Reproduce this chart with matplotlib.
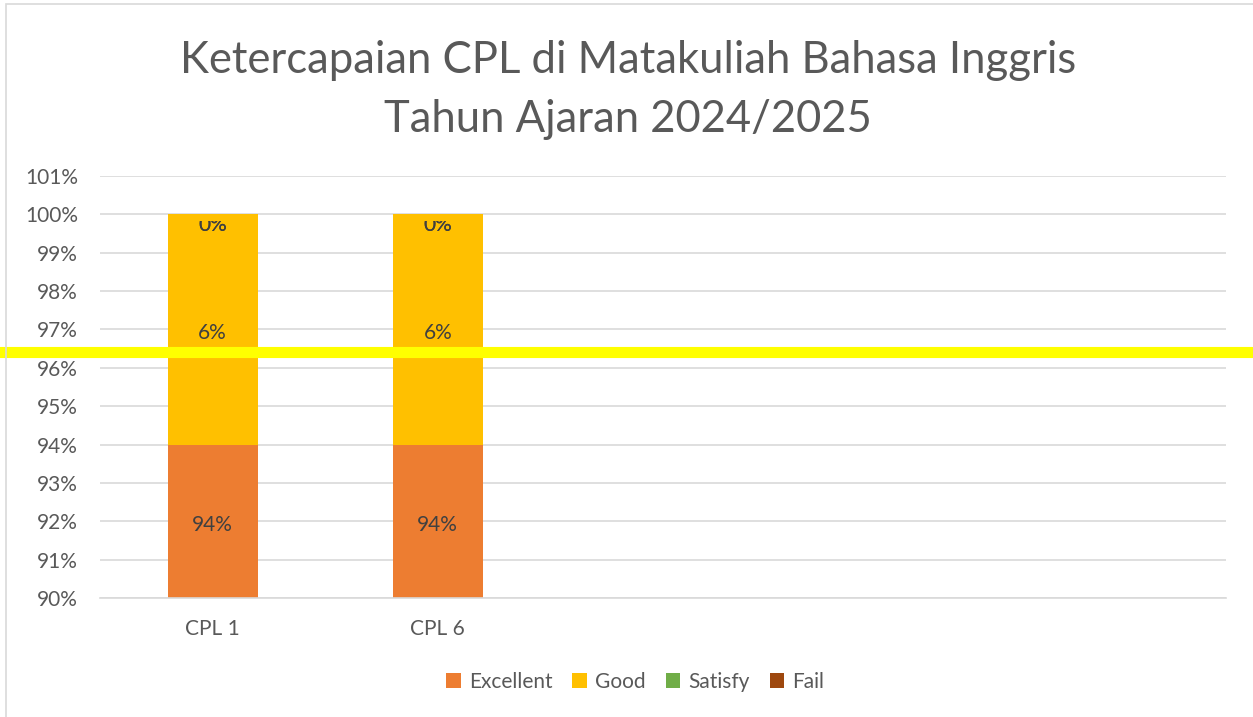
import matplotlib.pyplot as plt
from matplotlib.patches import Rectangle
from matplotlib.ticker import MultipleLocator, FuncFormatter
import numpy as np

plt.rcParams['font.family'] = ['Lato', 'DejaVu Sans']

categories = ['CPL 1', 'CPL 6', '', '', '']
series_names = ['Excellent', 'Good', 'Satisfy', 'Fail']
excellent = [94, 94]
good = [6, 6]
satisfy = [0, 0]
fail = [0, 0]
marker_value = 96.42  # yellow highlight line

colors = ['#ED7D31', '#FFC000', '#70AD47', '#9E480E']
title = 'Ketercapaian CPL di Matakuliah Bahasa Inggris\nTahun Ajaran 2024/2025'

fig = plt.figure(figsize=(12.53, 7.17), dpi=100)
ax = fig.add_axes([0.0798, 0.166, 0.8987, 0.5886])

ymin, ymax = 90, 101
x = np.arange(len(categories))
n = len(excellent)
width = 0.4
bottom = np.zeros(n)
for name, vals, c in zip(series_names, [excellent, good, satisfy, fail], colors):
    vals = np.array(vals, dtype=float)
    ax.bar(x[:n], vals, width, bottom=bottom, color=c, label=name, zorder=2)
    for i in range(n):
        lo = max(bottom[i], ymin)
        hi = bottom[i] + vals[i]
        if vals[i] > 0:
            ax.annotate(f'{vals[i]:.0f}%', (x[i], (lo + hi) / 2), xytext=(0, -2.5),
                        textcoords='offset points', ha='center', va='center',
                        fontsize=15, color='#404040', zorder=3)
        else:
            t = ax.annotate(f'{vals[i]:.0f}%', (x[i], hi), xytext=(0, -7.5),
                            textcoords='offset points', ha='center', va='center',
                            fontsize=15, color='#404040', zorder=3)
            clip = Rectangle((x[i] - width / 2, ymin), width, hi - ymin - 0.18,
                             transform=ax.transData, fill=False, visible=False)
            ax.add_patch(clip)
            t.set_clip_path(clip)
    bottom = bottom + vals

ax.set_ylim(ymin, ymax)
ax.set_xlim(-0.5, len(categories) - 0.5)
ax.yaxis.set_major_locator(MultipleLocator(1))
ax.yaxis.set_major_formatter(FuncFormatter(lambda v, p: f'{v:.0f}%'))
ax.set_xticks(x)
ax.set_xticklabels(categories)
ax.grid(axis='y', color='#D9D9D9', linewidth=1.2, zorder=0)
ax.set_axisbelow(True)
for s in ['top', 'right', 'left']:
    ax.spines[s].set_visible(False)
ax.spines['bottom'].set_color('#D9D9D9')
ax.spines['bottom'].set_linewidth(1.2)
ax.tick_params(axis='both', length=0, labelsize=15, labelcolor='#595959')
ax.tick_params(axis='y', pad=16)
ax.tick_params(axis='x', pad=15)

# yellow highlight line across the whole figure
ax.axhline(marker_value, xmin=-0.09, xmax=1.04, color='#FFFF00', linewidth=8, clip_on=False, zorder=4)

fig.text(0.501, 0.875, title, ha='center', va='center', fontsize=31.4, color='#595959', linespacing=1.55)

leg = fig.legend(loc='center', bbox_to_anchor=(0.507, 0.049), ncol=4, frameon=False,
                 fontsize=15, handlelength=0.7, handleheight=0.7, handletextpad=0.4,
                 columnspacing=0.95)
for t in leg.get_texts():
    t.set_color('#595959')

fig.patches.append(Rectangle((6 / 1253, -0.05), 1.1, 0.05 + 1 - 4 / 717, transform=fig.transFigure,
                             fill=False, edgecolor='#D9D9D9', linewidth=1.2))

fig.savefig('out.png', dpi=100)
